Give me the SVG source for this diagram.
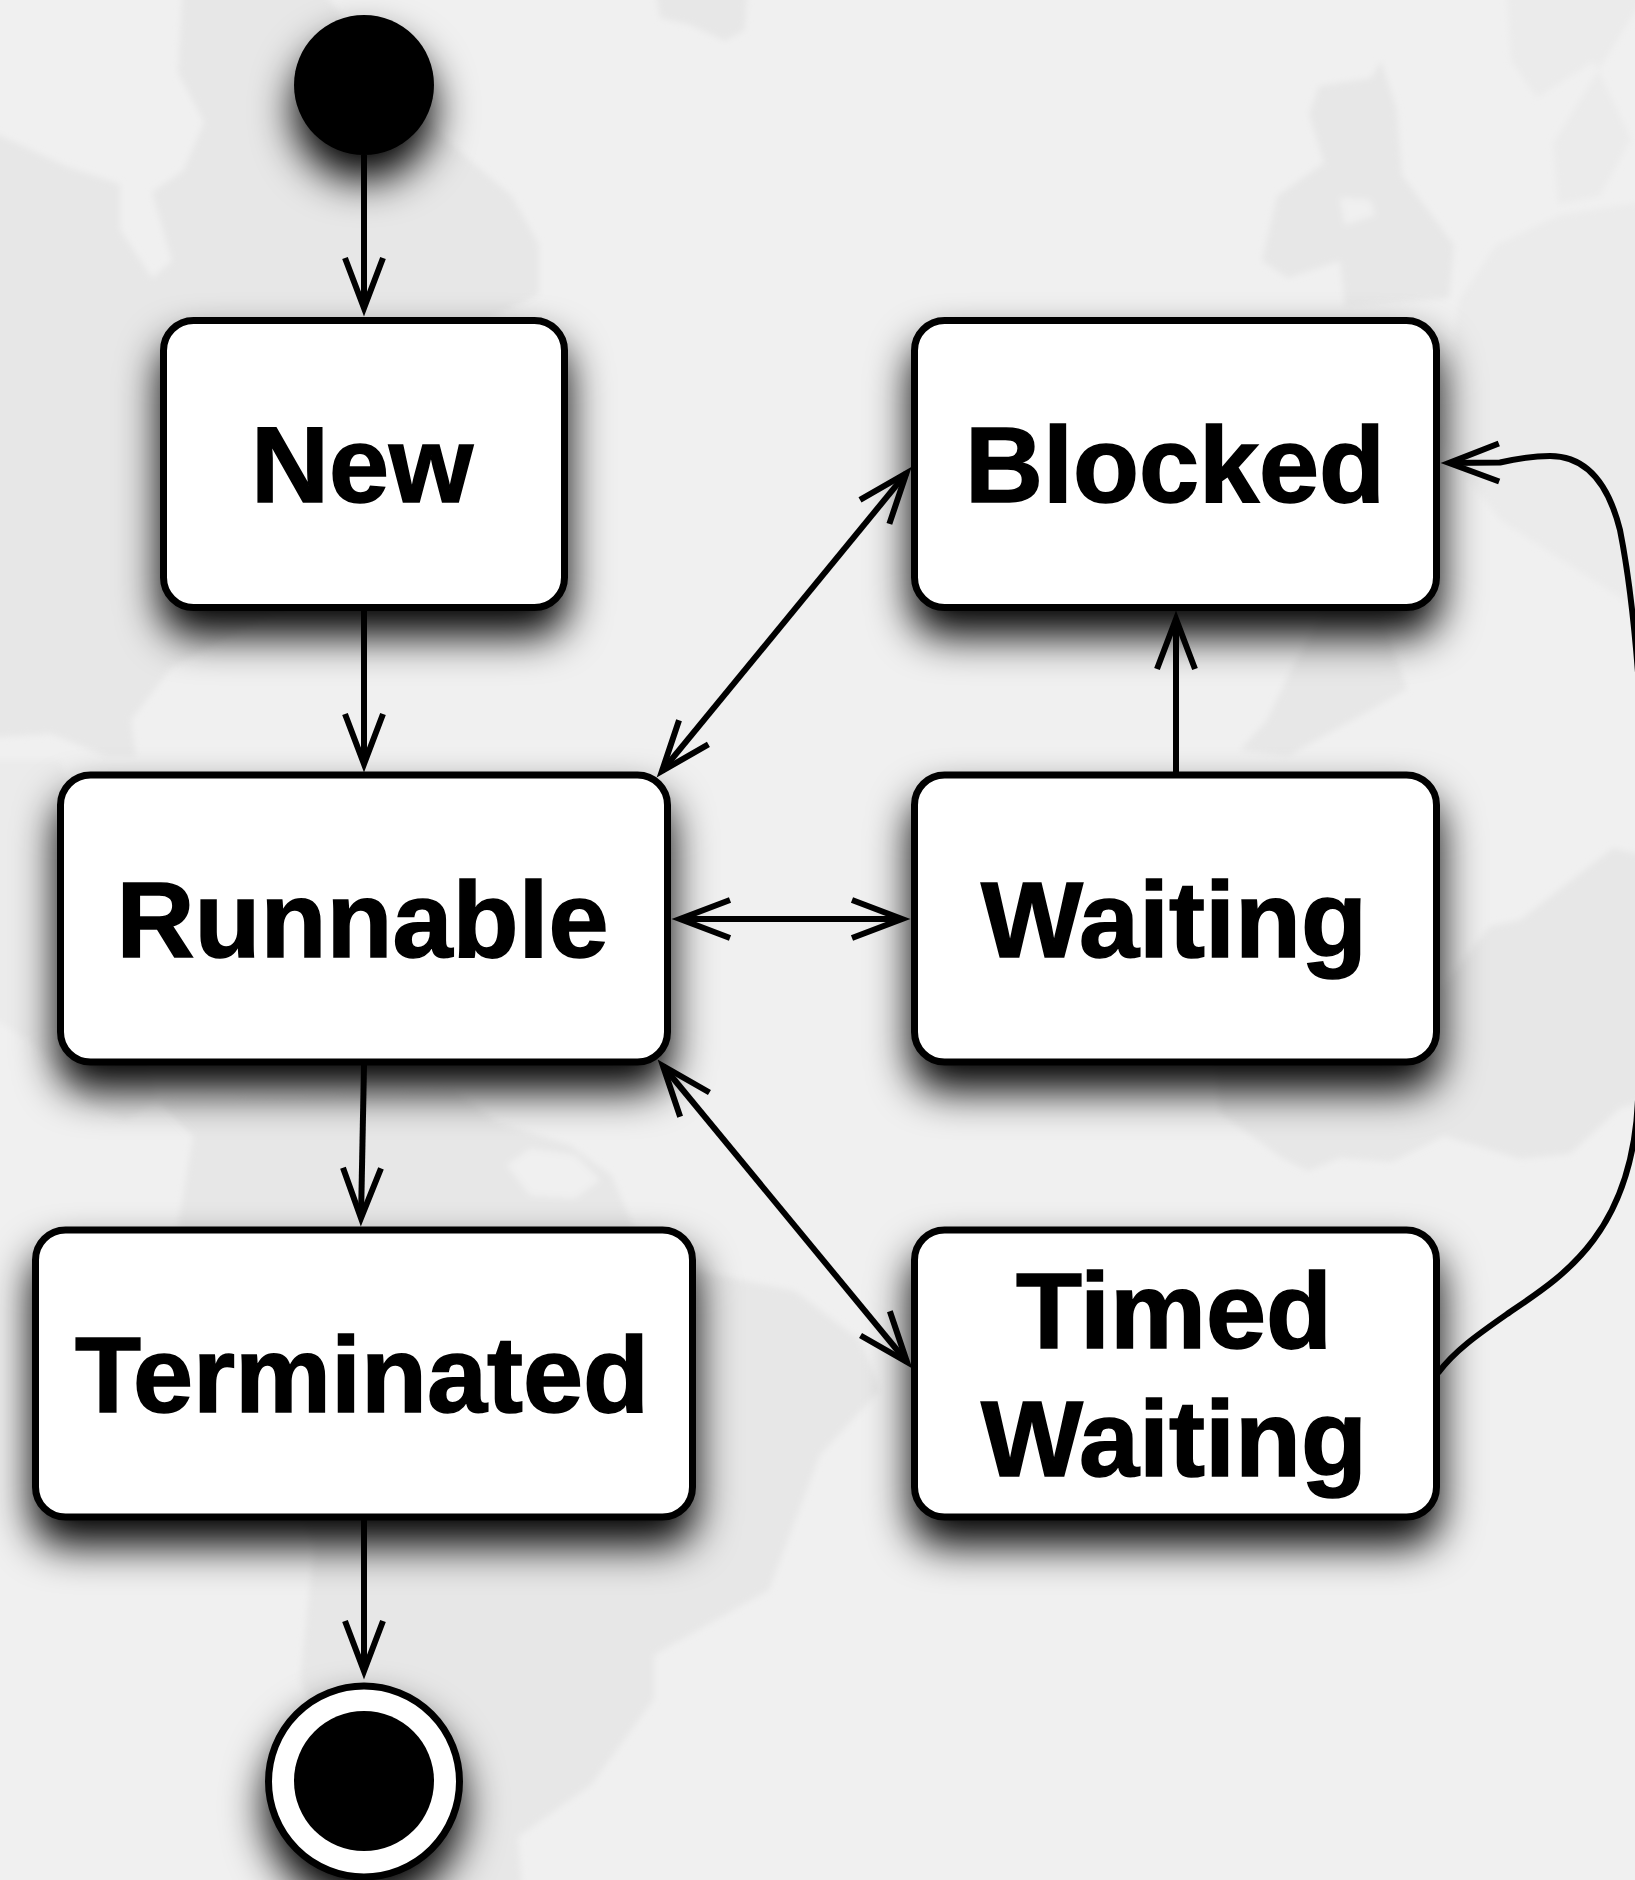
<svg xmlns="http://www.w3.org/2000/svg" width="1635" height="1880" viewBox="0 0 1635 1880">
<style>
.land{fill:#e7e7e7;stroke:none}
.land2{fill:#ebebeb;stroke:none}
.sea{fill:#f0f0f0;stroke:none}
.box{fill:#fff;stroke:#000;stroke-width:7}
.lbl{font-family:"Liberation Sans",Arial,Helvetica,sans-serif;font-weight:700;font-size:108px;fill:#000;stroke:#000;stroke-width:1.6;text-anchor:middle}
.c{fill:none;stroke:#000;stroke-width:6;stroke-linecap:butt}
.end{marker-end:url(#open)}
.both{marker-start:url(#open);marker-end:url(#open)}
</style>
<defs>
<filter id="soft" x="-5%" y="-5%" width="110%" height="110%"><feGaussianBlur stdDeviation="3"/></filter>
<filter id="sh" x="-60%" y="-60%" width="220%" height="240%" color-interpolation-filters="sRGB">
<feDropShadow dx="0" dy="25" stdDeviation="21" flood-color="#000" flood-opacity="1"/>
</filter>
<marker id="open" markerUnits="userSpaceOnUse" markerWidth="90" markerHeight="60" viewBox="-70 -30 90 60" refX="0" refY="0" orient="auto-start-reverse" overflow="visible">
<path d="M-50,-19 L0,0 L-50,19" fill="none" stroke="#000" stroke-width="6" stroke-miterlimit="6"/>
</marker>
</defs>
<g id="background">
<rect width="1635" height="1880" fill="#f0f0f0"/>
<g filter="url(#soft)">
<path class="land" d="M183,-20 L178,73 L204,122 L183,171 L152,192 L172,261 L152,278 L120,229 L120,184 L68,167 L-20,126 L-20,738 L52,734 L105,756 L136,756 L131,720 L172,667 L230,636 L300,600 L492,318 L539,294 L539,245 L512,196 L450,143 L400,90 L314,-20 Z"/>
<path class="land2" d="M-20,760 L60,760 L157,1100 L125,1122 L89,1104 L31,1042 L-20,1010 Z"/>
<path class="land" d="M193,1136 L157,1100 L455,1091 L497,1122 L570,1145 L612,1176 L633,1225 L695,1270 L795,1291 L860,1340 L880,1390 L820,1455 L769,1590 L654,1655 L654,1699 L591,1785 L518,1837 L523,1900 L400,1900 L300,1680 L314,1547 L178,1225 Z"/>
<path class="sea" d="M507,1165 L530,1149 L575,1155 L600,1180 L575,1198 L530,1195 Z"/>
<path class="land" d="M654,-20 L748,-20 L745,30 L725,41 L690,25 L660,18 Z"/>
<path class="land" d="M1381,61 L1371,78 L1319,86 L1309,114 L1324,163 L1277,196 L1262,261 L1288,278 L1340,261 L1345,306 L1449,298 L1454,245 L1402,175 L1397,110 Z"/>
<path class="sea" d="M1340,198 L1370,200 L1375,215 L1345,225 Z"/>
<path class="land2" d="M1506,-20 L1511,61 L1537,98 L1594,61 L1631,139 L1600,196 L1558,204 L1553,143 L1655,-20 Z"/>
<path class="land2" d="M1459,300 L1496,245 L1560,215 L1655,200 L1655,620 L1500,520 L1440,440 Z"/>
<path class="land" d="M1324,610 L1288,676 L1267,720 L1240,750 L1288,756 L1360,716 L1407,689 L1392,645 L1380,610 Z"/>
<path class="land" d="M1215,1060 L1220,1113 L1282,1158 L1308,1171 L1340,1158 L1392,1162 L1444,1136 L1520,1159 L1570,1154 L1620,1108 L1655,1098 L1655,858 L1613,848 L1520,920 L1490,926 L1440,990 L1440,1060 Z"/>
</g>
</g>
<g id="nodes-shadowed">
<g id="start"><circle cx="364" cy="85" r="70" fill="#000" filter="url(#sh)"/></g>
<g id="new"><rect class="box" x="163.5" y="320.5" width="401" height="287" rx="30" filter="url(#sh)"/><text class="lbl" x="362" y="502">New</text></g>
<g id="blocked"><rect class="box" x="914.5" y="320.5" width="522" height="287" rx="30" filter="url(#sh)"/><text class="lbl" x="1175" y="502">Blocked</text></g>
<g id="runnable"><rect class="box" x="60.5" y="775" width="607" height="287" rx="30" filter="url(#sh)"/><text class="lbl" x="362.5" y="957">Runnable</text></g>
<g id="waiting"><rect class="box" x="914.5" y="775" width="522" height="287" rx="30" filter="url(#sh)"/><text class="lbl" x="1174" y="957">Waiting</text></g>
<g id="terminated"><rect class="box" x="35.5" y="1230" width="657" height="287" rx="30" filter="url(#sh)"/><text class="lbl" x="362" y="1412">Terminated</text></g>
<g id="timed-waiting"><rect class="box" x="914.5" y="1230" width="522" height="287" rx="30" filter="url(#sh)"/><text class="lbl" x="1174"><tspan x="1174" y="1348">Timed</tspan><tspan x="1174" y="1476">Waiting</tspan></text></g>
<g id="final"><circle cx="364" cy="1781.5" r="95.5" fill="#fff" stroke="#000" stroke-width="7" filter="url(#sh)"/><circle cx="364" cy="1781" r="70" fill="#000"/></g>
</g>
<g id="connectors">
<path class="c end" d="M364,155 L364,308"/>
<path class="c end" d="M364,610 L364,764"/>
<path class="c end" d="M364,1065 L361,1218"/>
<path class="c end" d="M364,1520 L364,1671"/>
<path class="c end" d="M1176,774 L1176,619"/>
<path class="c both" d="M662,771 L906.4,473.2"/>
<path class="c both" d="M680,919 L902,919"/>
<path class="c both" d="M663,1066 L907,1362"/>
<path class="c end" d="M1438,1373 C1455,1350 1480,1333 1510,1312 C1560,1278 1632,1235 1638,1100 L1640,700 C1636,640 1630,580 1620,530 C1610,490 1590,456 1550,456 C1535,456 1520,458 1500,462.5 L1449,463"/>
</g>
</svg>
